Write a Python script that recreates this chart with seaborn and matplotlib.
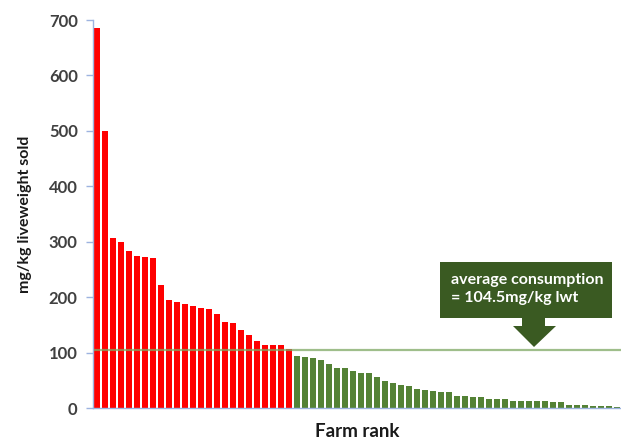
import matplotlib
matplotlib.use("Agg")
import matplotlib.pyplot as plt
import seaborn as sns
import pandas as pd
from matplotlib.patches import Polygon

# ---- data ----
high_use = [686, 500, 306, 300, 284, 275, 273, 270, 222, 194, 191, 188, 184,
            181, 178, 170, 156, 153, 141, 131, 120, 114, 114, 114, 107]
low_use = [93, 91.5, 90, 87, 80, 72, 72, 67, 63, 63, 56, 48, 46, 42, 40, 34,
           32, 30, 28, 28, 22, 21, 19, 19, 17, 17, 17, 12, 12, 12, 12, 12, 10,
           10, 6, 6, 5, 4, 4, 3, 2]
average = 104.5
y_ticks = [0, 100, 200, 300, 400, 500, 600, 700]
annotation = "average consumption\n= 104.5mg/kg lwt"
x_label = "Farm rank"
y_label = "mg/kg liveweight sold"

values = high_use + low_use
groups = ["above"] * len(high_use) + ["below"] * len(low_use)
df = pd.DataFrame({"rank": list(range(1, len(values) + 1)),
                   "value": values, "group": groups})

sns.set_style("white")
plt.rcParams["font.family"] = ["Lato", "DejaVu Sans"]

fig = plt.figure(figsize=(6.21, 4.44), dpi=100)
ax = fig.add_axes([93 / 621, 1 - 408 / 444, 528 / 621, 388 / 444])

sns.barplot(data=df, x="rank", y="value", hue="group",
            palette={"above": "#FF0000", "below": "#548235"},
            dodge=False, width=0.84, edgecolor="none", saturation=1,
            legend=False, ax=ax)

n = len(values)
ax.hlines(average, -0.4, n - 0.5, color="#7FA865", alpha=0.75, lw=1.6, zorder=5)

ax.set_xlim(-0.5, n - 0.5)
ax.set_ylim(0, 700)
ax.set_yticks(y_ticks)
ax.set_yticklabels([str(t) for t in y_ticks], fontsize=12,
                   fontweight="bold", color="#404040")
ax.set_xticks([])

for s in ["top", "right"]:
    ax.spines[s].set_visible(False)
for s in ["left", "bottom"]:
    ax.spines[s].set_color("#9DB3E0")
    ax.spines[s].set_linewidth(1.0)
ax.tick_params(axis="y", which="both", left=True, length=5, width=1,
               color="#9DB3E0", pad=6)

ax.set_xlabel(x_label, fontsize=13.5, fontweight="bold", color="#1a1a1a",
              labelpad=11)
ax.set_ylabel(y_label, fontsize=11.5, fontweight="bold", color="#1a1a1a",
              labelpad=12)

# callout box with arrow (in data coordinates)
def px_x(p):
    return (p - 93) / 8.0 - 0.5

def px_y(p):
    return (408 - p) / (388 / 700)

x0, x1 = px_x(440), px_x(612)
yt, yb = px_y(262), px_y(318)
sL, sR = px_x(522), px_x(545)
hL, hR = px_x(513), px_x(556)
yh = px_y(326)
tipx, tipy = px_x(534), px_y(347)
poly = Polygon([(x0, yt), (x1, yt), (x1, yb), (sR, yb), (sR, yh), (hR, yh),
                (tipx, tipy), (hL, yh), (sL, yh), (sL, yb), (x0, yb)],
               closed=True, facecolor="#3A5A22", edgecolor="none",
               zorder=6, clip_on=False)
ax.add_patch(poly)
ax.text(px_x(451), px_y(289), annotation, color="white", fontsize=11.5,
        fontweight="bold", va="center", ha="left", linespacing=1.3,
        zorder=7)

fig.savefig("out.png", dpi=100)
